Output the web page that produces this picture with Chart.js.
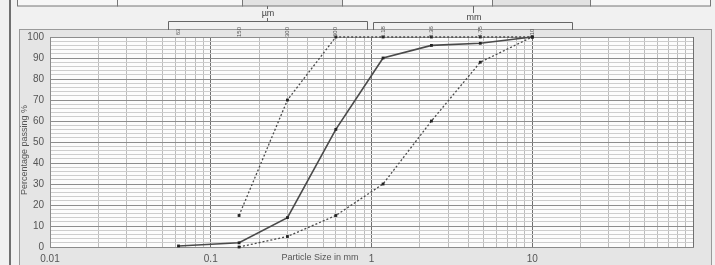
<!DOCTYPE html>
<html>
<head>
<meta charset="utf-8">
<script src="https://cdn.jsdelivr.net/npm/chart.js@4.4.0/dist/chart.umd.min.js"></script>
<style>
  html, body { margin: 0; padding: 0; background: #f1f1f1; }
  #wrap { width: 715px; height: 265px; position: relative; }
</style>
</head>
<body>
<div id="wrap"><canvas id="psd" width="715" height="265"></canvas></div>
<script>
// sieve sizes in mm and the labels printed across the top
const sieveSizes = [0.063, 0.15, 0.3, 0.6, 1.18, 2.36, 4.75, 10];
const sieveLabels = ['63', '150', '300', '600', '1.18', '2.36', '4.75', '10'];

// grading curve of the sample (solid)
const sampleSizes = [0.063, 0.15, 0.3, 0.6, 1.18, 2.36, 4.75, 10];
const samplePassing = [0.5, 2, 14, 56, 90, 96, 97, 100];

// fine envelope (dotted, left)
const fineSizes = [0.15, 0.3, 0.6, 1.18, 2.36, 4.75, 10];
const finePassing = [15, 70, 100, 100, 100, 100, 100];

// coarse envelope (dotted, right)
const coarseSizes = [0.15, 0.3, 0.6, 1.18, 2.36, 4.75, 10];
const coarsePassing = [0, 5, 15, 30, 60, 88, 100];

// axis labels
const xTickValues = [0.01, 0.1, 1, 10];
const xTickLabels = ['0.01', '0.1', '1', '10'];
const yTickLabels = ['0', '10', '20', '30', '40', '50', '60', '70', '80', '90', '100'];

const FONT = "'Liberation Sans', Arial, sans-serif";
const LINE = '#4a4a4a';

const toPoints = (xs, ys) => xs.map((x, i) => ({ x: x, y: ys[i] }));

// log grid: 1..9 in every decade
const logGrid = [];
for (let k = -2; k <= 1; k++) {
    for (let m = 1; m <= 9; m++) logGrid.push(+(m * Math.pow(10, k)).toPrecision(3));
}
logGrid.push(100);

const isDecade = v => Math.abs(Math.log10(v) - Math.round(Math.log10(v))) < 1e-6;

// page, header boxes, brackets and titles
const sheetPlugin = {
    id: 'sheet',
    beforeDraw(chart) {
        const c = chart.ctx;
        const a = chart.chartArea;
        c.save();
        c.fillStyle = '#f1f1f1';
        c.fillRect(0, 0, chart.width, chart.height);
        // page border
        c.strokeStyle = '#444';
        c.lineWidth = 1.5;
        c.beginPath(); c.moveTo(10, 0); c.lineTo(10, chart.height); c.stroke();
        // header boxes (cut off at the top)
        const boxes = [[17, 117, '#f7f7f7'], [117, 242, '#f7f7f7'], [242, 342, '#e2e2e2'],
                       [342, 492, '#f7f7f7'], [492, 590, '#e2e2e2'], [590, 710, '#f7f7f7']];
        c.lineWidth = 1;
        boxes.forEach(b => {
            c.fillStyle = b[2];
            c.fillRect(b[0], -2, b[1] - b[0], 8);
            c.strokeStyle = '#777';
            c.strokeRect(b[0] + 0.5, -2, b[1] - b[0], 8);
        });
        // chart area
        c.fillStyle = '#e5e5e5';
        c.fillRect(19, 29, 693, 240);
        c.strokeStyle = '#9a9a9a';
        c.strokeRect(19.5, 29.5, 692, 240);
        // plot area
        c.fillStyle = '#fcfcfc';
        c.fillRect(a.left, a.top, a.right - a.left, a.bottom - a.top);
        c.restore();
    },
    afterDraw(chart) {
        const c = chart.ctx;
        const xs = chart.scales.x;
        c.save();
        c.strokeStyle = '#666';
        c.lineWidth = 1;
        // µm and mm brackets
        const brackets = [[168, 367, 21, 267, 'µm', 14], [373, 572, 22, 473, 'mm', 18]];
        brackets.forEach(b => {
            c.beginPath();
            c.moveTo(b[0] + 0.5, 30); c.lineTo(b[0] + 0.5, b[2] + 0.5);
            c.lineTo(b[1] + 0.5, b[2] + 0.5); c.lineTo(b[1] + 0.5, 30);
            c.moveTo(b[3] + 0.5, 6); c.lineTo(b[3] + 0.5, b[2] + 0.5);
            c.stroke();
            c.fillStyle = '#f1f1f1';
            c.fillRect(b[3] - 8, b[5] - 5, 16, 9);
            c.fillStyle = '#444';
            c.font = '9px ' + FONT;
            c.textAlign = 'center';
            c.textBaseline = 'middle';
            c.fillText(b[4], b[3] + 1, b[5]);
        });
        // sieve labels along the top band
        c.font = '6px ' + FONT;
        c.fillStyle = '#555';
        sieveSizes.forEach((s, i) => {
            const px = xs.getPixelForValue(s);
            c.save();
            c.translate(px, 32);
            c.rotate(-Math.PI / 2);
            c.textAlign = 'center';
            c.textBaseline = 'middle';
            c.fillText(sieveLabels[i], 0, 0);
            c.restore();
        });
        // axis titles
        c.fillStyle = '#555';
        c.font = '9px ' + FONT;
        c.save();
        c.translate(25, 150);
        c.rotate(-Math.PI / 2);
        c.textAlign = 'center';
        c.textBaseline = 'middle';
        c.fillText('Percentage passing %', 0, 0);
        c.restore();
        c.textAlign = 'center';
        c.textBaseline = 'middle';
        c.fillText('Particle Size in mm', 320, 258);
        c.restore();
    }
};

const lineSet = (label, data, dashed) => ({
    label: label,
    data: data,
    showLine: true,
    borderColor: LINE,
    borderWidth: dashed ? 1.3 : 1.6,
    borderDash: dashed ? [2, 2] : [],
    pointStyle: 'rect',
    pointRadius: 2,
    pointBackgroundColor: '#222',
    pointBorderColor: '#222',
    pointBorderWidth: 0,
    clip: 6
});

new Chart(document.getElementById('psd'), {
    type: 'scatter',
    data: {
        datasets: [
            lineSet('Sample', toPoints(sampleSizes, samplePassing), false),
            lineSet('Fine limit', toPoints(fineSizes, finePassing), true),
            lineSet('Coarse limit', toPoints(coarseSizes, coarsePassing), true)
        ]
    },
    options: {
        responsive: false,
        animation: false,
        devicePixelRatio: 1,
        layout: { padding: { left: 19, right: 22, top: 37, bottom: 0 } },
        plugins: {
            legend: { display: false },
            tooltip: { enabled: false }
        },
        scales: {
            x: {
                type: 'logarithmic',
                min: 0.01,
                max: 100,
                afterBuildTicks: axis => { axis.ticks = logGrid.map(v => ({ value: v })); },
                afterFit: axis => { axis.height = 18; },
                grid: {
                    color: ctx => (ctx.tick && isDecade(ctx.tick.value)) ? '#6f6f6f' : '#bcbcbc',
                    drawTicks: false
                },
                border: { color: '#8a8a8a' },
                ticks: {
                    autoSkip: false,
                    maxRotation: 0,
                    padding: 6,
                    color: '#555',
                    font: { family: FONT, size: 10 },
                    callback: function(value) {
                        const i = xTickValues.findIndex(t => Math.abs(t - value) < t * 1e-6);
                        return i >= 0 ? xTickLabels[i] : '';
                    }
                }
            },
            y: {
                min: 0,
                max: 100,
                afterFit: axis => { axis.width = 31; },
                grid: {
                    color: ctx => (ctx.tick && ctx.tick.value % 10 === 0) ? '#8d8d8d' : '#cdcdcd',
                    drawTicks: false
                },
                border: { color: '#8a8a8a' },
                ticks: {
                    stepSize: 2,
                    autoSkip: false,
                    padding: 6,
                    color: '#555',
                    font: { family: FONT, size: 10 },
                    callback: function(value) {
                        return value % 10 === 0 ? yTickLabels[value / 10] : '';
                    }
                }
            }
        }
    },
    plugins: [sheetPlugin]
});
</script>
</body>
</html>
